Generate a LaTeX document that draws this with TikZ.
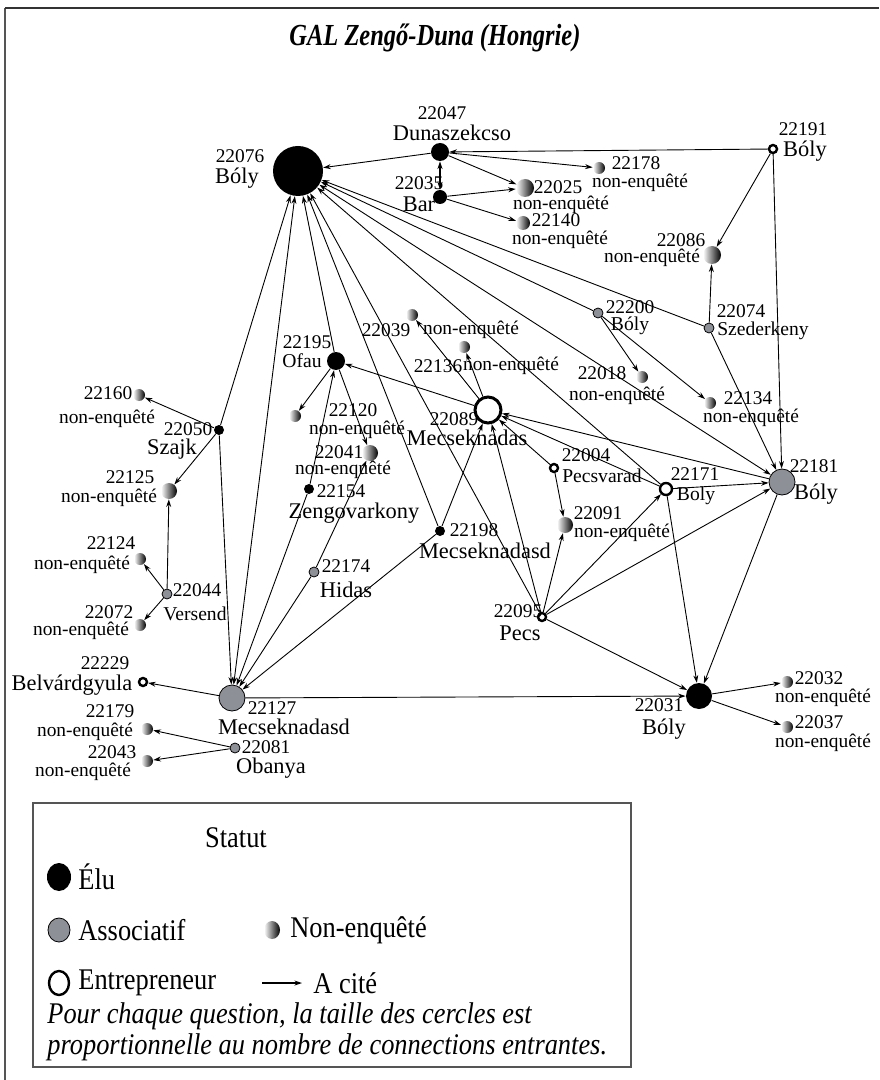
\documentclass[tikz,border=0pt]{standalone}
\usepackage{fontspec}
\setmainfont{Liberation Serif}
\newfontfamily\titlefont[FakeStretch=0.8]{Liberation Serif}
\newfontfamily\legfont[FakeStretch=0.88]{Liberation Serif}
\usetikzlibrary{arrows.meta,shapes.geometric}
\definecolor{assocgray}{HTML}{8E9098}
\definecolor{framegray}{HTML}{555555}
\tikzset{
  elu/.style={circle,fill=black,inner sep=0pt,minimum size=#1},
  assoc/.style={circle,fill=assocgray,draw=black,line width=0.4pt,inner sep=0pt,minimum size=#1},
  entre/.style={circle,fill=white,draw=black,line width=1.2pt,inner sep=0pt,minimum size=#1},
  nonenq/.style={circle,inner sep=0pt,minimum size=#1,left color=white,middle color=black!85,right color=black},
  num/.style={inner sep=0pt,font=\fontsize{9.7}{10}\selectfont},
  nom/.style={inner sep=0pt,font=\fontsize{11.2}{12}\selectfont},
  noms/.style={inner sep=0pt,font=\fontsize{9.8}{10}\selectfont},
  legtext/.style={inner sep=0pt,anchor=west,font=\legfont\fontsize{15}{16}\selectfont},
  cite/.style={-{Stealth[length=3.8pt,width=2.5pt]},line width=0.45pt},
  both/.style={{Stealth[length=3.8pt,width=2.5pt]}-{Stealth[length=3.8pt,width=2.5pt]},line width=0.45pt}
}
\begin{document}
\begin{tikzpicture}[x=0.5pt,y=-0.5pt]
\useasboundingbox (0,0) rectangle (879,1080);
% frame and title
\draw[framegray,line width=0.7pt] (5,1080) -- (5,8);
\draw[black!80,line width=1.2pt] (5,8) -- (879,8);
\node[inner sep=0pt,font=\titlefont\fontsize{15.3}{16}\selectfont\bfseries\itshape] (title) at (435,38) {GAL Zengő-Duna (Hongrie)};

% actors
\node[elu=25pt] (n22076) at (298,171) {};
\node[elu=9pt] (n22047) at (440,152) {};
\node[elu=7pt] (n22035) at (440,197) {};
\node[entre=4pt] (n22191) at (773,149) {};
\node[nonenq=6pt] (n22178) at (599,168) {};
\node[nonenq=9pt] (n22025) at (525,188) {};
\node[nonenq=7pt] (n22140) at (523,223) {};
\node[nonenq=9pt] (n22086) at (712,255) {};
\node[assoc=5pt] (n22200) at (598,313) {};
\node[assoc=5pt] (n22074) at (709,328) {};
\node[nonenq=6pt] (n22018) at (642,377) {};
\node[nonenq=6pt] (n22134) at (710,403) {};
\node[assoc=13pt] (n22181) at (782,482) {};
\node[entre=4pt] (n22004) at (554,468) {};
\node[entre=6pt] (n22171) at (666,489) {};
\node[nonenq=8pt] (n22091) at (565,525) {};
\node[entre=4pt] (n22095) at (542,617) {};
\node[elu=13pt] (n22031) at (699,696) {};
\node[nonenq=6pt] (n22032) at (787,682) {};
\node[nonenq=6pt] (n22037) at (787,727) {};
\node[elu=9pt] (n22195) at (336,361) {};
\node[nonenq=6pt] (n22039) at (412,315) {};
\node[nonenq=6pt] (n22136) at (464,347) {};
\node[entre=13pt,line width=1.5pt] (n22089) at (488,410) {};
\node[nonenq=6pt] (n22120) at (295,416) {};
\node[nonenq=8pt] (n22041) at (370,453) {};
\node[elu=5pt] (n22154) at (309,489) {};
\node[elu=5pt] (n22198) at (440,531) {};
\node[assoc=5pt] (n22174) at (314,572) {};
\node[nonenq=6pt] (n22160) at (139,395) {};
\node[elu=5pt] (n22050) at (219,430) {};
\node[nonenq=8pt] (n22125) at (169,491) {};
\node[nonenq=6pt] (n22124) at (140,559) {};
\node[assoc=5pt] (n22044) at (167,594) {};
\node[nonenq=6pt] (n22072) at (140,625) {};
\node[entre=4pt] (n22229) at (143,682) {};
\node[assoc=13pt] (n22127) at (232,698) {};
\node[nonenq=6pt] (n22179) at (147,729) {};
\node[nonenq=6pt] (n22043) at (147,761) {};
\node[assoc=5pt] (n22081) at (235,748) {};

% labels
\node[num] (t22076) at (240,156) {22076};  \node[nom] (l22076) at (237,178) {Bóly};
\node[num] (t22047) at (442,113) {22047};  \node[nom] (l22047) at (452,133) {Dunaszekcso};
\node[num] (t22035) at (419,183) {22035};  \node[nom] (l22035) at (419,204) {Bar};
\node[num] (t22191) at (803,129) {22191};  \node[nom] (l22191) at (805,151) {Bóly};
\node[num] (t22178) at (636,163) {22178};  \node[num] (l22178) at (640,183) {non-enquêté};
\node[num] (t22025) at (558,187) {22025};  \node[num] (l22025) at (561,205) {non-enquêté};
\node[num] (t22140) at (556,220) {22140};  \node[num] (l22140) at (560,240) {non-enquêté};
\node[num] (t22086) at (681,240) {22086};  \node[num] (l22086) at (652,258) {non-enquêté};
\node[num] (t22200) at (630,307) {22200};  \node[noms] (l22200) at (630,326) {Bóly};
\node[num] (t22074) at (741,311) {22074};  \node[noms] (l22074) at (763,331) {Szederkeny};
\node[num] (t22018) at (602,373) {22018};  \node[num] (l22018) at (617,396) {non-enquêté};
\node[num] (t22134) at (748,398) {22134};  \node[num] (l22134) at (751,418) {non-enquêté};
\node[num] (t22181) at (814,466) {22181};  \node[nom] (l22181) at (816,494) {Bóly};
\node[num] (t22004) at (586,455) {22004};  \node[noms] (l22004) at (602,476) {Pecsvarad};
\node[num] (t22171) at (695,474) {22171};  \node[noms] (l22171) at (696,496) {Boly};
\node[num] (t22091) at (598,513) {22091};  \node[num] (l22091) at (622,533) {non-enquêté};
\node[num] (t22095) at (518,611) {22095};  \node[nom] (l22095) at (520,633) {Pecs};
\node[num] (t22031) at (659,705) {22031};  \node[nom] (l22031) at (664,729) {Bóly};
\node[num] (t22032) at (819,678) {22032};  \node[num] (l22032) at (823,698) {non-enquêté};
\node[num] (t22037) at (819,722) {22037};  \node[num] (l22037) at (823,743) {non-enquêté};
\node[num] (t22195) at (307,342) {22195};  \node[noms] (l22195) at (302,361) {Ofau};
\node[num] (t22039) at (386,330) {22039};  \node[num] (l22039) at (471,330) {non-enquêté};
\node[num] (t22136) at (438,366) {22136};  \node[num] (l22136) at (511,366) {non-enquêté};
\node[num] (t22089) at (454,419) {22089};  \node[nom] (l22089) at (467,438) {Mecseknadas};
\node[num] (t22120) at (353,410) {22120};  \node[num] (l22120) at (357,430) {non-enquêté};
\node[num] (t22041) at (339,452) {22041};  \node[num] (l22041) at (343,470) {non-enquêté};
\node[num] (t22154) at (341,491) {22154};  \node[nom] (l22154) at (354,513) {Zengovarkony};
\node[num] (t22198) at (474,530) {22198};  \node[nom] (l22198) at (485,551) {Mecseknadasd};
\node[num] (t22174) at (346,566) {22174};  \node[nom] (l22174) at (346,590) {Hidas};
\node[num] (t22160) at (108,393) {22160};  \node[num] (l22160) at (107,419) {non-enquêté};
\node[num] (t22050) at (188,429) {22050};  \node[nom] (l22050) at (172,449) {Szajk};
\node[num] (t22125) at (130,477) {22125};  \node[num] (l22125) at (109,498) {non-enquêté};
\node[num] (t22124) at (111,543) {22124};  \node[num] (l22124) at (82,565) {non-enquêté};
\node[num] (t22044) at (197,590) {22044};  \node[noms] (l22044) at (195,614) {Versend};
\node[num] (t22072) at (109,612) {22072};  \node[num] (l22072) at (81,631) {non-enquêté};
\node[num] (t22229) at (105,663) {22229};  \node[nom] (l22229) at (72,685) {Belvárdgyula};
\node[num] (t22127) at (272,708) {22127};  \node[nom] (l22127) at (284,727) {Mecseknadasd};
\node[num] (t22179) at (110,711) {22179};  \node[num] (l22179) at (85,732) {non-enquêté};
\node[num] (t22043) at (112,752) {22043};  \node[num] (l22043) at (83,772) {non-enquêté};
\node[num] (t22081) at (266,747) {22081};  \node[nom] (l22081) at (271,768) {Obanya};

% citations
\draw[cite] (n22047) -- (n22076);
\draw[cite] (n22191) -- (n22047);
\draw[cite] (n22047) -- (n22178);
\draw[cite] (n22047) -- (n22025);
\draw[cite] (n22035) -- (n22025);
\draw[cite] (n22035) -- (n22140);
\draw[both,line width=1.2pt] (n22047) -- (n22035);
\draw[cite] (n22191) -- (n22086);
\draw[cite] (n22191) -- (n22181);
\draw[cite] (n22074) -- (n22086);
\draw[cite] (n22074) -- (n22076);
\draw[cite] (n22074) -- (n22181);
\draw[cite] (n22200) -- (n22076);
\draw[cite] (n22200) -- (n22018);
\draw[cite] (n22200) -- (n22134);
\draw[both] (n22181) -- (n22076);
\draw[cite] (n22171) -- (n22076);
\draw[cite] (n22181) -- (n22089);
\draw[cite] (n22171) -- (n22089);
\draw[cite] (n22171) -- (n22181);
\draw[cite] (n22171) -- (n22031);
\draw[cite] (n22181) -- (n22031);
\draw[cite] (n22004) -- (n22089);
\draw[cite] (n22004) -- (n22091);
\draw[cite] (n22095) -- (n22091);
\draw[cite] (n22095) -- (n22171);
\draw[cite] (n22095) -- (n22181);
\draw[cite] (n22095) -- (n22031);
\draw[cite] (n22095) -- (n22076);
\draw[cite] (n22095) -- (n22089);
\draw[cite] (n22198) -- (n22076);
\draw[cite] (n22198) -- (n22089);
\draw[cite] (n22198) -- (n22127);
\draw[cite] (n22031) -- (n22032);
\draw[cite] (n22031) -- (n22037);
\draw[cite] (n22127) -- (n22031);
\draw[cite] (n22127) -- (n22229);
\draw[both] (n22127) -- (n22076);
\draw[cite] (n22081) -- (n22179);
\draw[cite] (n22081) -- (n22043);
\draw[cite] (n22050) -- (n22160);
\draw[cite] (n22050) -- (n22125);
\draw[cite] (n22044) -- (n22125);
\draw[cite] (n22044) -- (n22124);
\draw[cite] (n22044) -- (n22072);
\draw[cite] (n22050) -- (n22127);
\draw[cite] (n22050) -- (n22076);
\draw[cite] (n22089) -- (n22039);
\draw[cite] (n22089) -- (n22136);
\draw[cite] (n22089) -- (n22195);
\draw[cite] (n22195) -- (n22076);
\draw[cite] (n22195) -- (n22120);
\draw[cite] (n22195) -- (n22041);
\draw[cite] (n22154) -- (n22195);
\draw[cite] (n22154) -- (n22127);
\draw[cite] (n22174) -- (n22041);
\draw[cite] (n22174) -- (n22127);

% legend
\draw[framegray,line width=1pt] (33,803) rectangle (631,1067);
\node[legtext,anchor=center] (statut) at (236,838) {Statut};
\node[ellipse,fill=black,inner sep=0pt,minimum width=12pt,minimum height=14pt] (kelu) at (59,877) {};
\node[legtext] (telu) at (78,877) {Élu};
\node[ellipse,fill=assocgray,draw=black,line width=0.4pt,inner sep=0pt,minimum width=11pt,minimum height=12pt] (kassoc) at (59,930) {};
\node[legtext] (tassoc) at (78,930) {Associatif};
\node[nonenq=8pt,ellipse,minimum height=9pt] (knonenq) at (272,930) {};
\node[legtext] (tnonenq) at (290,930) {Non-enquêté};
\node[ellipse,fill=white,draw=black,line width=1.2pt,inner sep=0pt,minimum width=10pt,minimum height=12pt] (kentre) at (59,983) {};
\node[legtext] (tentre) at (78,983) {Entrepreneur};
\coordinate (kcitea) at (262,983);
\coordinate (kciteb) at (302,983);
\draw[cite,line width=0.7pt] (kcitea) -- (kciteb);
\node[legtext] (tcite) at (313,983) {A cité};
\node[legtext,font=\legfont\fontsize{15}{16}\selectfont\itshape] (note1) at (47,1016) {Pour chaque question, la taille des cercles est};
\node[legtext,font=\legfont\fontsize{15}{16}\selectfont\itshape] (note2) at (47,1047) {proportionnelle au nombre de connections entrantes.};
\end{tikzpicture}
\end{document}
